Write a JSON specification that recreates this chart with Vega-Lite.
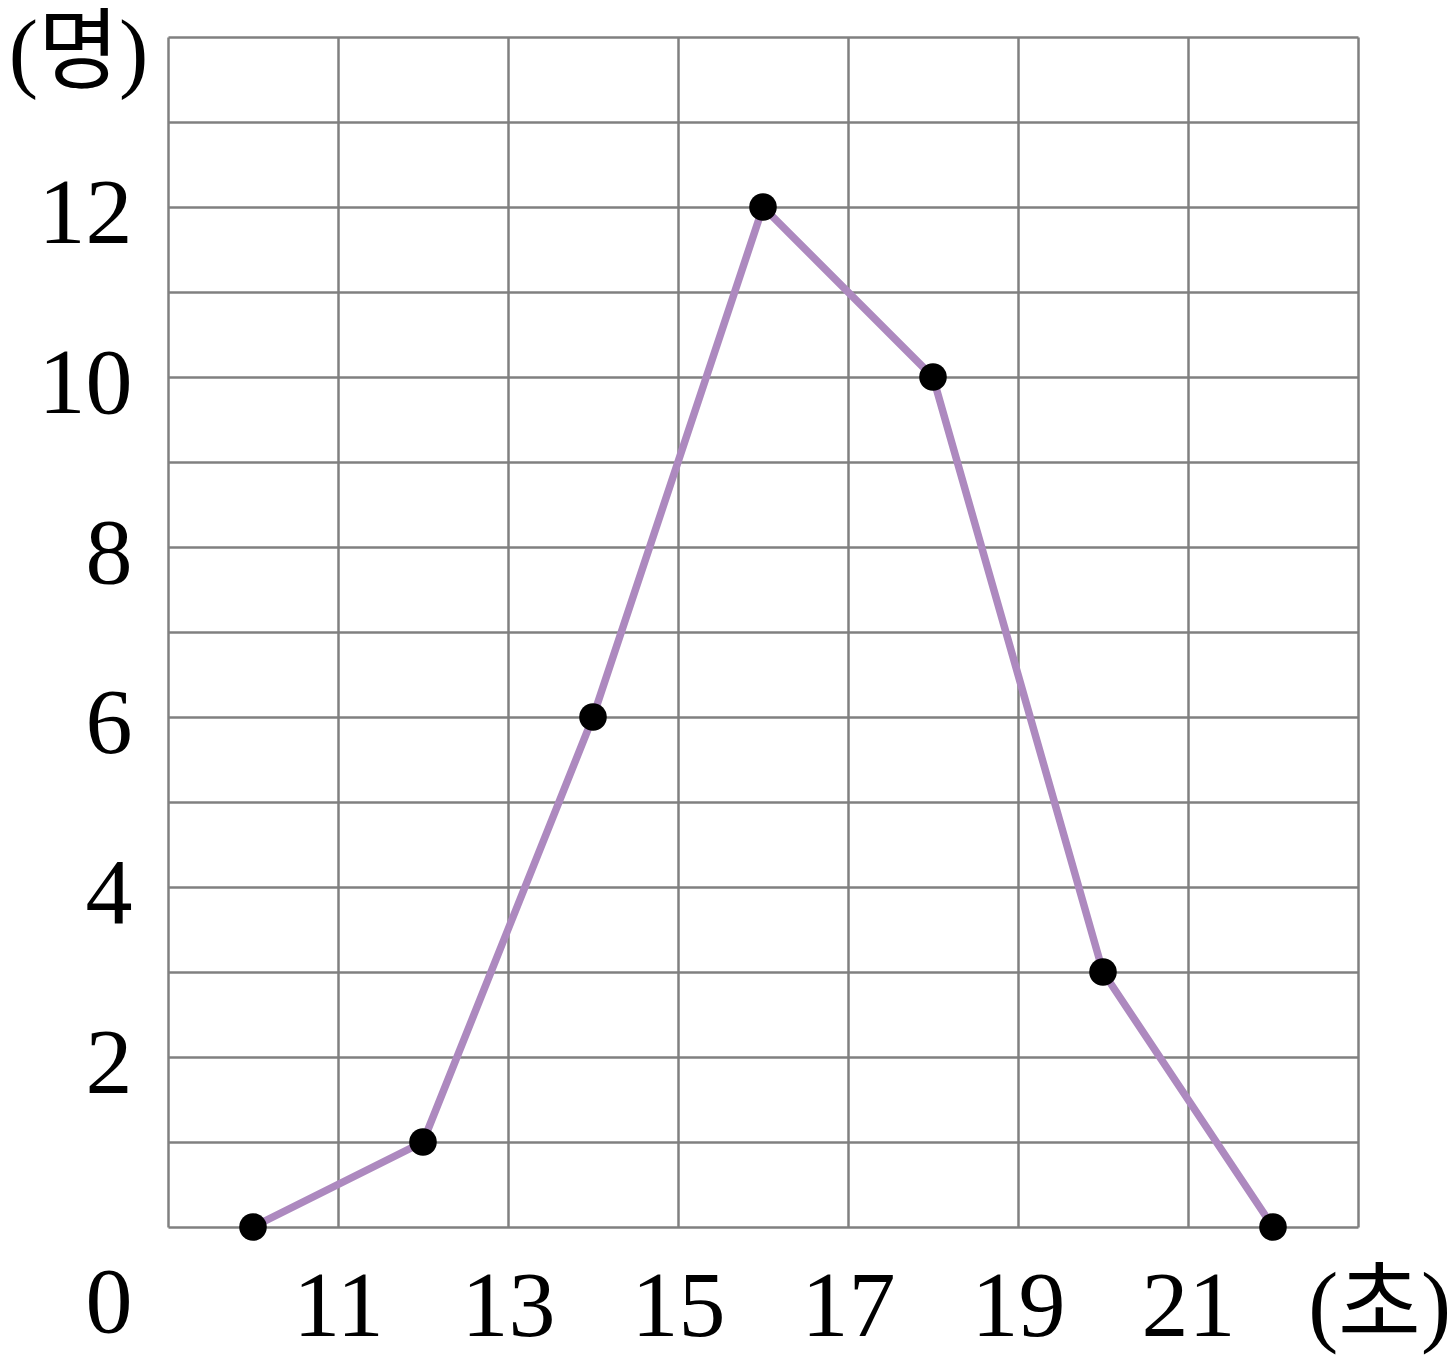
{
  "$schema": "https://vega.github.io/schema/vega-lite/v6.json",
  "width": 1190,
  "height": 1190,
  "autosize": {"type": "none"},
  "padding": {"left": 168, "top": 37, "right": 92, "bottom": 140},
  "background": "white",
  "config": {
    "view": {"stroke": null},
    "font": "Liberation Serif, Noto Sans CJK KR"
  },
  "data": {
    "values": [
      {"sec": 10, "count": 0},
      {"sec": 12, "count": 1},
      {"sec": 14, "count": 6},
      {"sec": 16, "count": 12},
      {"sec": 18, "count": 10},
      {"sec": 20, "count": 3},
      {"sec": 22, "count": 0}
    ]
  },
  "encoding": {
    "x": {
      "field": "sec",
      "type": "quantitative",
      "scale": {"domain": [9, 23], "nice": false, "zero": false},
      "axis": {
        "values": [9, 11, 13, 15, 17, 19, 21, 23],
        "labelExpr": "datum.value >= 11 && datum.value <= 21 ? datum.label : ''",
        "grid": true,
        "gridColor": "#808080",
        "gridWidth": 2.5,
        "gridOpacity": 1,
        "domain": false,
        "ticks": false,
        "labelFont": "Liberation Serif",
        "labelFontSize": 94,
        "labelColor": "black",
        "labelPadding": 34,
        "labelBaseline": "top",
        "labelOverlap": false,
        "labelBound": false,
        "labelFlush": false,
        "title": "(초)",
        "titleFont": "Liberation Serif, Noto Sans CJK KR",
        "titleFontSize": 90,
        "titleFontWeight": "normal",
        "titleColor": "black",
        "titleAnchor": null,
        "titleAlign": "center",
        "titleBaseline": "middle",
        "titleX": 1211,
        "titleY": 80
      }
    },
    "y": {
      "field": "count",
      "type": "quantitative",
      "scale": {"domain": [0, 14], "nice": false},
      "axis": {
        "values": [0, 1, 2, 3, 4, 5, 6, 7, 8, 9, 10, 11, 12, 13, 14],
        "labelExpr": "datum.value % 2 == 0 && datum.value <= 12 ? datum.label : ''",
        "grid": true,
        "gridColor": "#808080",
        "gridWidth": 2.5,
        "gridOpacity": 1,
        "domain": false,
        "ticks": false,
        "labelFont": "Liberation Serif",
        "labelFontSize": 94,
        "labelColor": "black",
        "labelPadding": 36,
        "labelBaseline": "middle",
        "labelOffset": {"condition": {"test": "datum.value == 0", "value": 76}, "value": 7},
        "labelOverlap": false,
        "labelBound": false,
        "labelFlush": false,
        "title": "(명)",
        "titleFont": "Liberation Serif, Noto Sans CJK KR",
        "titleFontSize": 88,
        "titleFontWeight": "normal",
        "titleColor": "black",
        "titleAngle": 0,
        "titleAnchor": null,
        "titleAlign": "center",
        "titleBaseline": "middle",
        "titleX": -90,
        "titleY": 17
      }
    }
  },
  "layer": [
    {
      "mark": {"type": "line", "color": "#ad89bf", "strokeWidth": 7.5, "clip": false}
    },
    {
      "mark": {"type": "point", "filled": true, "color": "black", "opacity": 1, "size": 760, "clip": false}
    }
  ]
}
